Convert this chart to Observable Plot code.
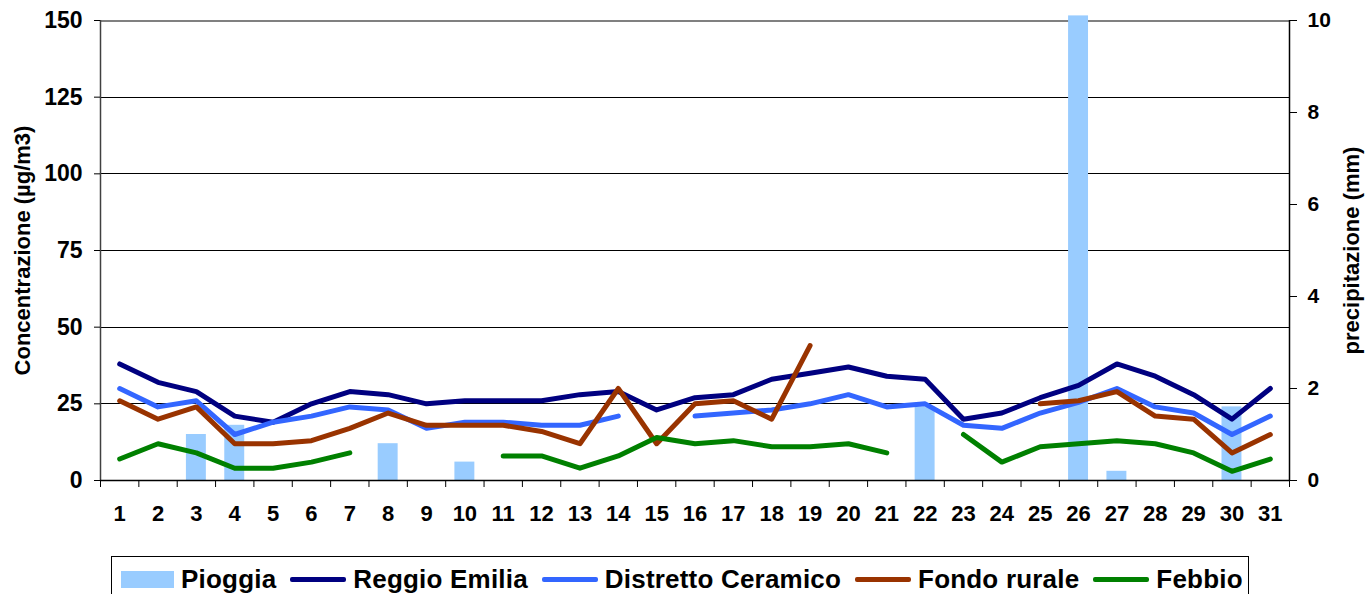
<!DOCTYPE html>
<html><head><meta charset="utf-8">
<script src="https://cdn.jsdelivr.net/npm/d3@7"></script>
<script src="https://cdn.jsdelivr.net/npm/@observablehq/plot@0.6"></script>
<style>
html,body{margin:0;padding:0;background:#fff;}
#wrap{position:relative;width:1372px;height:594px;overflow:hidden;font-family:"Liberation Sans",Arial,sans-serif;}
#legend{position:absolute;left:111px;top:556px;width:1138px;height:46px;border:1.5px solid #000;box-sizing:border-box;display:flex;align-items:center;padding-left:9px;font-weight:bold;font-size:26px;letter-spacing:0.2px;color:#000;white-space:nowrap;}
.item{display:flex;align-items:center;margin-right:14px;}
.sw{display:inline-block;margin-right:7px;}
</style>
</head><body>
<div id="wrap"><div id="chart"></div><div id="legend"></div></div>
<script>
// ---- data ----
const days = [1,2,3,4,5,6,7,8,9,10,11,12,13,14,15,16,17,18,19,20,21,22,23,24,25,26,27,28,29,30,31];
const rainMm = [0,0,1.0,1.2,0,0,0,0.8,0,0.4,0,0,0,0,0,0,0,0,0,0,0,1.6,0,0,0,10.1,0.2,0,0,1.6,0];
const reggioEmilia = [38,32,29,21,19,25,29,28,25,26,26,26,28,29,23,27,28,33,35,37,34,33,20,22,27,31,38,34,28,20,30];
const distrettoCeramico = [30,24,26,15,19,21,24,23,17,19,19,18,18,21,null,21,22,23,25,28,24,25,18,17,22,25.5,30,24,22,15,21];
const fondoRurale = [26,20,24,12,12,13,17,22,18,18,18,16,12,30,12,25,26,20,44,null,null,null,null,null,25,26,29,21,20,9,15];
const febbio = [7,12,9,4,4,6,9,null,null,null,8,8,4,8,14,12,13,11,11,12,9,null,15,6,11,12,13,12,9,3,7];
const seriesNames = ["Reggio Emilia","Distretto Ceramico","Fondo rurale","Febbio"];
const seriesColors = ["#000080","#3366FF","#993300","#008000"];
const rainName = "Pioggia";
const rainColor = "#99CCFF";
const leftTicks = [0,25,50,75,100,125,150];
const rightTicks = [0,2,4,6,8,10];
const leftTitle = "Concentrazione (µg/m3)";
const rightTitle = "precipitazione (mm)";

// ---- derived ----
const K = 150 / 10; // right axis (mm) mapped onto left axis (µg/m3)
const rainRows = days.map((d,i)=>({day:d, rain:rainMm[i]})).filter(r=>r.rain>0);
const seriesValues = [reggioEmilia, distrettoCeramico, fondoRurale, febbio];
const lineRows = seriesNames.flatMap((n,si)=>days.map((d,i)=>({day:d, v:seriesValues[si][i], name:n})));
const bounds = days.map(d=>d-0.5).concat([days[days.length-1]+0.5]);
const half = 0.26;

const chart = Plot.plot({
  width:1372, height:552,
  marginLeft:100, marginRight:83, marginTop:20, marginBottom:72,
  style:{fontFamily:'"Liberation Sans",Arial,sans-serif', fontSize:"21px", fontWeight:"bold", color:"#000", background:"#fff"},
  x:{type:"linear", domain:[0.5,31.5]},
  y:{domain:[0,150]},
  color:{domain:seriesNames, range:seriesColors},
  marks:[
    Plot.gridY([25,50,75,100,125], {stroke:"#000", strokeOpacity:1, strokeWidth:1, shapeRendering:"crispEdges"}),
    Plot.ruleY([150], {stroke:"#808080", strokeWidth:2, shapeRendering:"crispEdges"}),
    Plot.rectY(rainRows, {x1:d=>d.day-half, x2:d=>d.day+half, y1:0, y2:d=>d.rain*K, fill:rainColor}),
    Plot.line(lineRows, {x:"day", y:"v", z:"name", stroke:"name", strokeWidth:5, strokeLinejoin:"round", strokeLinecap:"round"}),
    Plot.ruleX([0.5], {stroke:"#404040", strokeWidth:1.5}),
    Plot.ruleX([31.5], {stroke:"#000", strokeWidth:1.5}),
    Plot.ruleY([0], {stroke:"#000", strokeWidth:1.5}),
    Plot.axisY({anchor:"left", ticks:leftTicks, tickSize:6, tickPadding:12, fontSize:23, label:null, stroke:"#000", fill:"#000"}),
    Plot.axisY({anchor:"right", ticks:rightTicks.map(v=>v*K), tickFormat:v=>String(v/K), tickSize:7, tickPadding:11, label:null, stroke:"#000", fill:"#000"}),
    Plot.axisX({ticks:bounds, tickSize:7, tickFormat:()=>"", label:null, stroke:"#000"}),
    Plot.axisX({ticks:days, tickSize:0, tickPadding:25, fontSize:22, tickFormat:d=>String(d), label:null, fill:"#000"}),
    Plot.text([leftTitle], {frameAnchor:"left", dx:-78, rotate:-90, textAnchor:"middle", fontSize:22, fontWeight:"bold", fill:"#000"}),
    Plot.text([rightTitle], {frameAnchor:"right", dx:62, rotate:-90, textAnchor:"middle", fontSize:22, fontWeight:"bold", fill:"#000"})
  ]
});
document.getElementById("chart").appendChild(chart);

// ---- legend ----
const legend = document.getElementById("legend");
function addItem(label, swatchStyle){
  const it = document.createElement("span"); it.className="item";
  const sw = document.createElement("span"); sw.className="sw"; Object.assign(sw.style, swatchStyle);
  const tx = document.createElement("span"); tx.textContent = label;
  it.appendChild(sw); it.appendChild(tx); legend.appendChild(it);
}
addItem(rainName, {width:"53px", height:"17px", background:rainColor});
seriesNames.forEach((n,i)=>addItem(n, {width:"56px", height:"5px", borderRadius:"2px", background:seriesColors[i]}));
</script>
</body></html>
